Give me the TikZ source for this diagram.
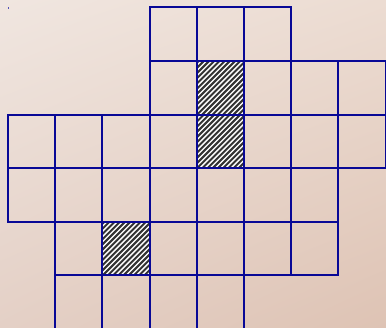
\documentclass[tikz,border=0pt]{standalone}
\usepackage{xcolor}
\usepackage{tikz}
\usetikzlibrary{shadings}

\definecolor{gridblue}{RGB}{8,8,150}
\definecolor{bgtl}{RGB}{240,230,224}
\definecolor{bgtr}{RGB}{236,220,210}
\definecolor{bgbl}{RGB}{228,208,198}
\definecolor{bgbr}{RGB}{222,195,180}

\newcommand{\cw}{47.2}
\newcommand{\ch}{53.6}

\begin{document}
\begin{tikzpicture}[
  x=1pt, y=-1pt,
  cell/.style={draw=gridblue, line width=2pt},
  stripe/.style={draw=black!80, line width=2pt},
  hatchbg/.style={fill=white}
]
\useasboundingbox (0,0) rectangle (386,328);
\shade[upper left=bgtl, upper right=bgtr, lower left=bgbl, lower right=bgbr]
  (0,0) rectangle (386,328);

% hatched cells (col/row)
\foreach \c/\r in {4/1, 4/2, 2/4}{
  \begin{scope}
    \clip ({8+\c*\cw},{7.5+\r*\ch}) rectangle ++(\cw,\ch);
    \fill[hatchbg] ({8+\c*\cw},{7.5+\r*\ch}) rectangle ++(\cw,\ch);
    \foreach \k in {-57,-51.8,...,50}
      \draw[stripe] ({8+\c*\cw+\k},{7.5+(\r+1)*\ch}) -- ++(\ch,-\ch);
  \end{scope}
}

% grid cells, row by row
\foreach \r/\cols in {0/{3,4,5}, 1/{3,4,5,6,7}, 2/{0,1,2,3,4,5,6,7},
                      3/{0,1,2,3,4,5,6}, 4/{1,2,3,4,5,6}, 5/{1,2,3,4}}{
  \foreach \c in \cols
    \draw[cell] ({8+\c*\cw},{7.5+\r*\ch}) rectangle ++(\cw,\ch);
}

\fill[gridblue!70] (7.6,6.6) rectangle ++(1.4,2);
\end{tikzpicture}
\end{document}
